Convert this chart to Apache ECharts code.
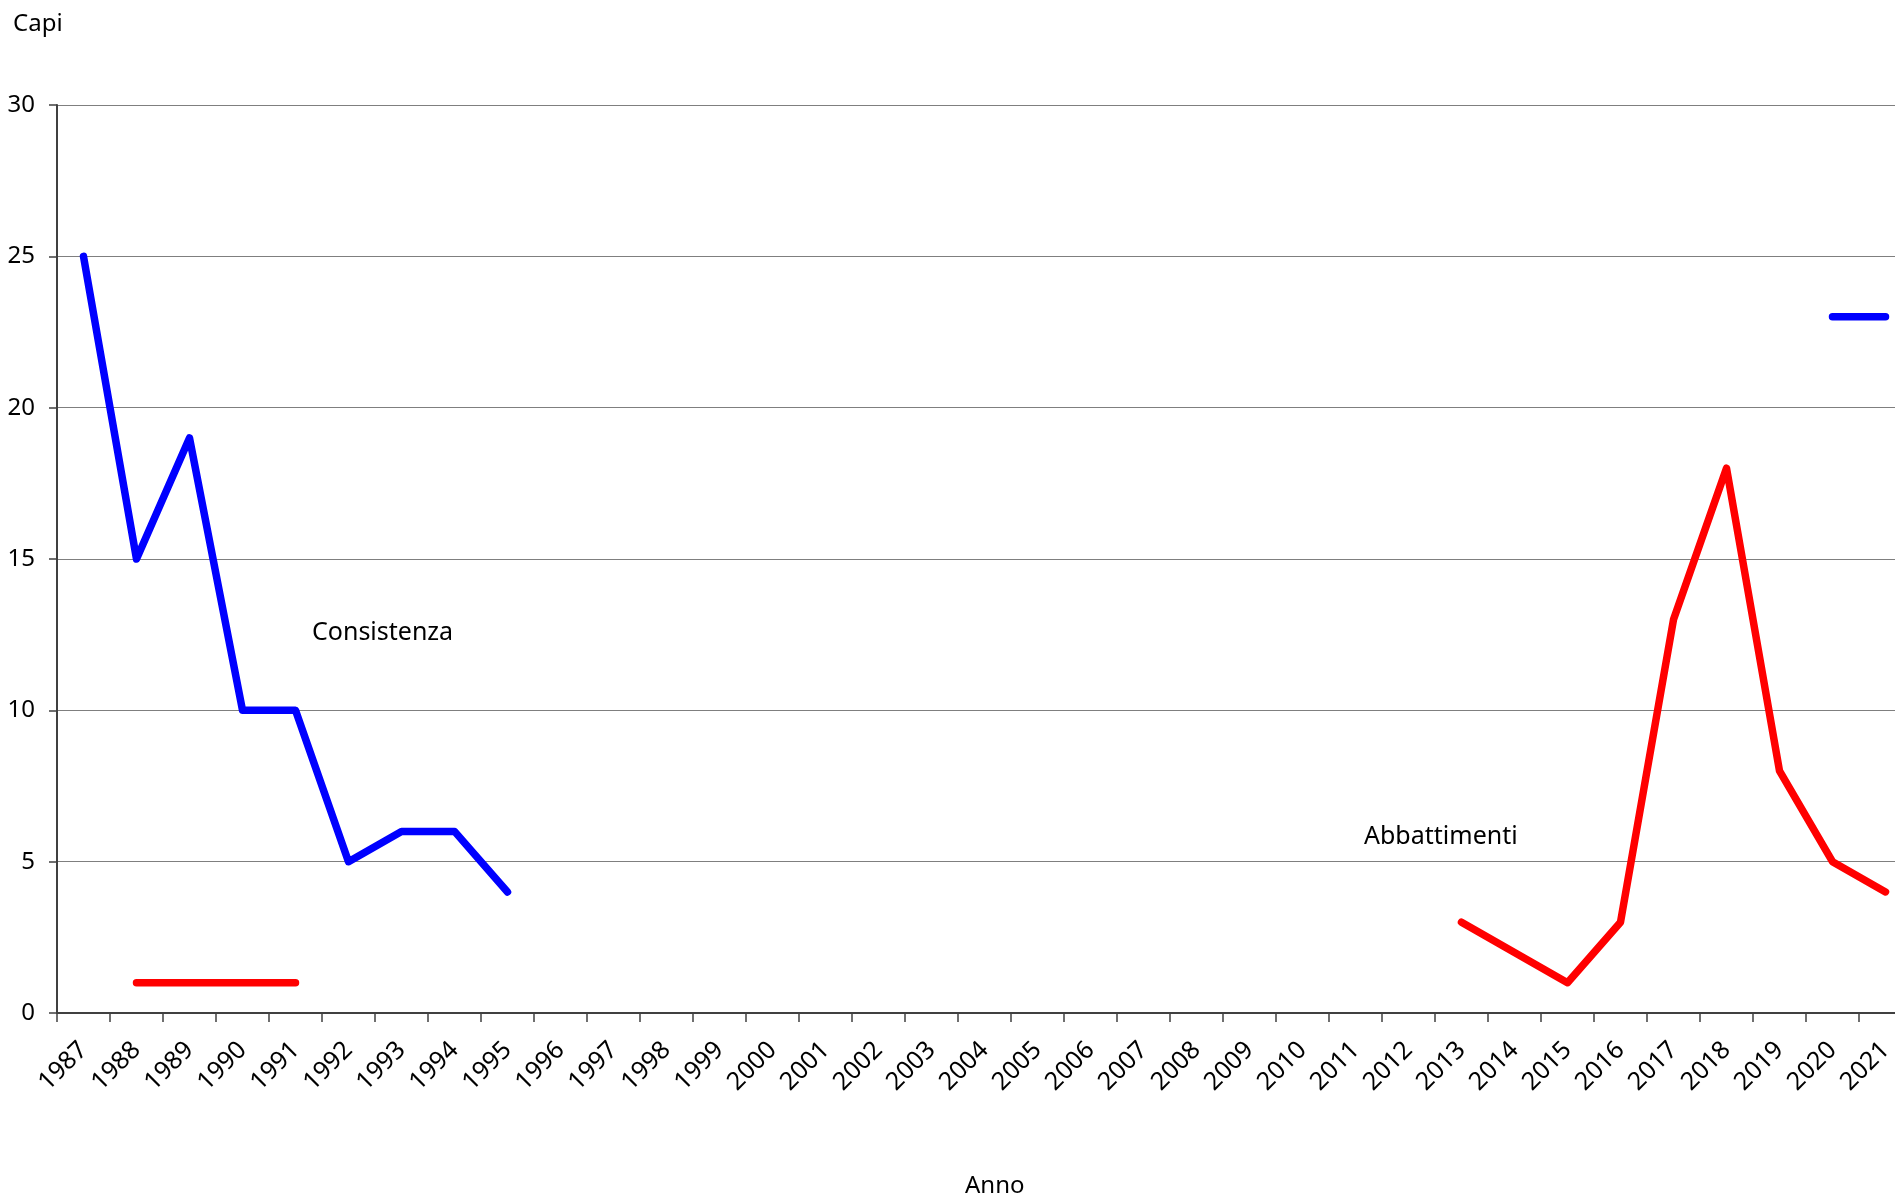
<!DOCTYPE html>
<html>
<head>
<meta charset="utf-8">
<script src="https://cdn.jsdelivr.net/npm/echarts@6/dist/echarts.min.js"></script>
<style>
html,body{margin:0;padding:0;background:#fff;overflow:hidden;width:1895px;height:1197px;}
#chart{width:1920px;height:1197px;}
</style>
</head>
<body>
<div id="chart"></div>
<script>
const years = ['1987','1988','1989','1990','1991','1992','1993','1994','1995','1996','1997','1998','1999','2000','2001','2002','2003','2004','2005','2006','2007','2008','2009','2010','2011','2012','2013','2014','2015','2016','2017','2018','2019','2020','2021'];
const consistenza = [25,15,19,10,10,5,6,6,4,null,null,null,null,null,null,null,null,null,null,null,null,null,null,null,null,null,null,null,null,null,null,null,null,23,23];
const abbattimenti = [null,1,1,1,1,null,null,null,null,null,null,null,null,null,null,null,null,null,null,null,null,null,null,null,null,null,3,2,1,3,13,18,8,5,4];
const yTicks = {min:0, max:30, interval:5};

const FONT = 'Noto Sans';
const chart = echarts.init(document.getElementById('chart'));
chart.setOption({
  animation:false,
  backgroundColor:'#ffffff',
  grid:{left:57, top:105, bottom:184, width:1855},
  xAxis:{
    type:'category', data:years, boundaryGap:true,
    axisLine:{lineStyle:{color:'#404040', width:2}},
    axisTick:{show:true, length:9, alignWithLabel:false, interval:0, lineStyle:{color:'#404040', width:1.5}},
    axisLabel:{interval:0, rotate:45, margin:33, fontFamily:FONT, fontSize:25, color:'#000'},
    splitLine:{show:false}
  },
  yAxis:{
    type:'value', min:yTicks.min, max:yTicks.max, interval:yTicks.interval,
    axisLine:{show:true, lineStyle:{color:'#404040', width:2}},
    axisTick:{show:true, length:8, lineStyle:{color:'#404040', width:1.5}},
    axisLabel:{margin:22, fontFamily:FONT, fontSize:24, color:'#000'},
    splitLine:{show:true, lineStyle:{color:'#7f7f7f', width:1.2}}
  },
  series:[
    {name:'Consistenza', type:'line', data:consistenza, showSymbol:false, connectNulls:false,
     lineStyle:{color:'#0000ff', width:7.5, cap:'round', join:'round'}, itemStyle:{color:'#0000ff'}},
    {name:'Abbattimenti', type:'line', data:abbattimenti, showSymbol:false, connectNulls:false,
     lineStyle:{color:'#ff0000', width:7.5, cap:'round', join:'round'}, itemStyle:{color:'#ff0000'}}
  ],
  graphic:[
    {type:'text', left:13, top:12, style:{text:'Capi', font:'24px "Noto Sans"', fill:'#000'}},
    {type:'text', left:965, top:1174, style:{text:'Anno', font:'24px "Noto Sans"', fill:'#000'}},
    {type:'text', left:312, top:620, style:{text:'Consistenza', font:'25px "Noto Sans"', fill:'#000'}},
    {type:'text', left:1364, top:824, style:{text:'Abbattimenti', font:'25px "Noto Sans"', fill:'#000'}}
  ]
});
</script>
</body>
</html>
